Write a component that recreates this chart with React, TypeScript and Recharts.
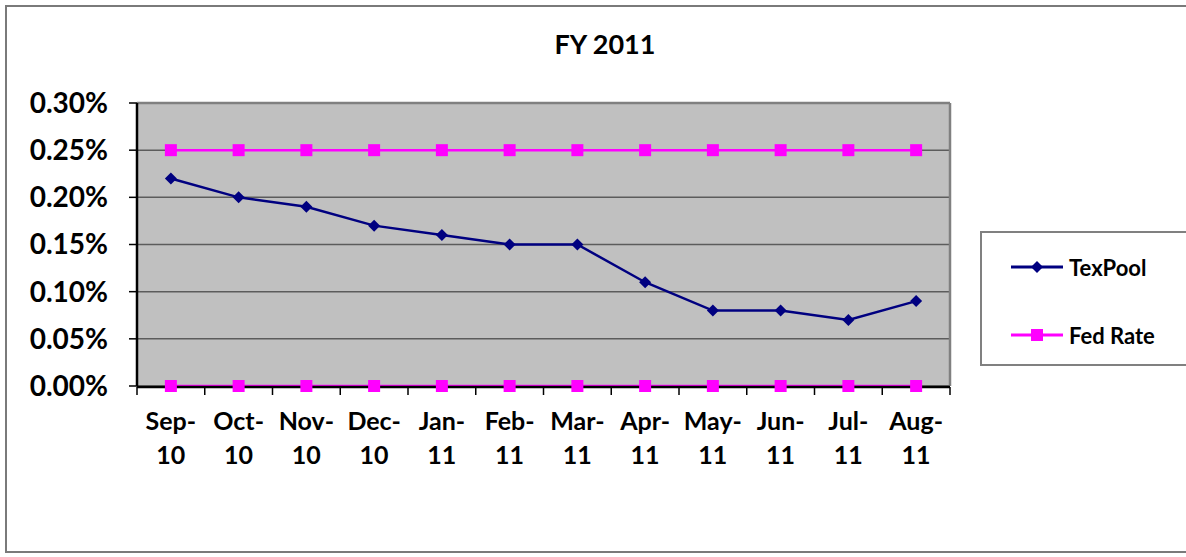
import React from 'react';
import { LineChart, Line, XAxis, YAxis, CartesianGrid, Legend, ReferenceLine } from 'recharts';

const categories = ['Sep-10', 'Oct-10', 'Nov-10', 'Dec-10', 'Jan-11', 'Feb-11', 'Mar-11', 'Apr-11', 'May-11', 'Jun-11', 'Jul-11', 'Aug-11'];
const texPool = [0.22, 0.20, 0.19, 0.17, 0.16, 0.15, 0.15, 0.11, 0.08, 0.08, 0.07, 0.09];
const fedRateUpper = [0.25, 0.25, 0.25, 0.25, 0.25, 0.25, 0.25, 0.25, 0.25, 0.25, 0.25, 0.25];
const fedRateLower = [0, 0, 0, 0, 0, 0, 0, 0, 0, 0, 0, 0];
const yTicks = [0, 0.05, 0.1, 0.15, 0.2, 0.25, 0.3];

const data = categories.map((month, i) => ({
  month,
  pos: i + 0.5,
  texPool: texPool[i],
  fedUpper: fedRateUpper[i],
  fedLower: fedRateLower[i],
}));
const boundaryTicks = [...categories.map((_, i) => i), categories.length];

const FONT = 'Lato, "Open Sans", sans-serif';
const NAVY = '#000080';
const MAGENTA = '#ff00ff';

const DiamondDot = (props: any) => {
  const { cx, cy, index } = props;
  if (cx == null || cy == null) return null;
  const r = 6;
  return (
    <polygon
      key={`dia-${index}`}
      points={`${cx},${cy - r} ${cx + r},${cy} ${cx},${cy + r} ${cx - r},${cy}`}
      fill={NAVY}
    />
  );
};

const SquareDot = (props: any) => {
  const { cx, cy, index, dataKey } = props;
  if (cx == null || cy == null) return null;
  const s = 12;
  return <rect key={`sq-${dataKey}-${index}`} x={cx - s / 2} y={cy - s / 2} width={s} height={s} fill={MAGENTA} />;
};

const MonthTick = (props: any) => {
  const { x, y, payload } = props;
  const v: string = String(payload?.value ?? '');
  const idx = v.indexOf('-');
  const a = v.slice(0, idx + 1);
  const b = v.slice(idx + 1);
  return (
    <g>
      <text x={x} y={y + 44} textAnchor="middle" fontFamily={FONT} fontWeight={700} fontSize={25} fill="#000">{a}</text>
      <text x={x} y={y + 78} textAnchor="middle" fontFamily={FONT} fontWeight={700} fontSize={25} fill="#000">{b}</text>
    </g>
  );
};

const EmptyTick = () => <g />;

const renderLegend = (props: any) => {
  const payload = (props.payload || [])
    .filter((e: any) => e.type !== 'none')
    .sort((a: any, b: any) => (a.type === 'diamond' ? 0 : 1) - (b.type === 'diamond' ? 0 : 1));
  return (
    <div style={{ width: 215, height: 135, border: '2px solid #808080', boxSizing: 'border-box', background: '#fff', position: 'relative' }}>
      {payload.map((entry: any, i: number) => (
        <div key={entry.value + i} style={{ position: 'absolute', left: 27, top: 20 + i * 68, height: 28, display: 'flex', alignItems: 'center' }}>
          <svg width={56} height={20} style={{ display: 'block' }}>
            <line x1={2} y1={10} x2={54} y2={10} stroke={entry.color} strokeWidth={3} />
            {entry.type === 'diamond' ? (
              <polygon points="28,4 34,10 28,16 22,10" fill={entry.color} />
            ) : (
              <rect x={22} y={4} width={12} height={12} fill={entry.color} />
            )}
          </svg>
          <span style={{ fontFamily: FONT, fontWeight: 700, fontSize: 22, color: '#000', marginLeft: 4 }}>{entry.value}</span>
        </div>
      ))}
    </div>
  );
};

export default function App() {
  return (
    <div style={{ position: 'absolute', left: 0, top: 0, width: 1186, height: 557, overflow: 'hidden', background: '#fff' }}>
      <div style={{ position: 'absolute', left: 5, top: 5, width: 1200, height: 548, border: '2px solid #7a7a7a', boxSizing: 'border-box' }} />
      <div style={{ position: 'absolute', left: 0, top: 27, width: 1210, textAlign: 'center', fontFamily: FONT, fontWeight: 700, fontSize: 27, color: '#000' }}>
        FY 2011
      </div>
      <LineChart
        width={1186}
        height={557}
        data={data}
        margin={{ top: 103, right: 236, bottom: 169, left: 7 }}
        style={{ position: 'absolute', left: 0, top: 0 }}
      >
        <CartesianGrid horizontal vertical={false} fill="#c0c0c0" stroke="#5c5c5c" strokeWidth={1.5} />
        <XAxis dataKey="month" scale="band" height={1} tickLine={false} axisLine={false} tickSize={0} tickMargin={0} interval={0} tick={<MonthTick />} />
        <XAxis xAxisId="grid" dataKey="pos" type="number" domain={[0, categories.length]} ticks={boundaryTicks} allowDataOverflow interval={0}
          height={1} tick={<EmptyTick />} tickSize={8} tickLine={{ stroke: '#000', strokeWidth: 1.5 }} axisLine={{ stroke: '#000', strokeWidth: 2.5 }} />
        <YAxis
          width={130}
          domain={[0, 0.3]}
          ticks={yTicks}
          tickSize={8}
          tickMargin={21}
          tickFormatter={(v: number) => `${v.toFixed(2)}%`}
          tick={{ fontFamily: FONT, fontWeight: 700, fontSize: 28, fill: '#000' }}
          tickLine={{ stroke: '#000', strokeWidth: 1.5 }}
          axisLine={{ stroke: '#000', strokeWidth: 2.5 }}
        />
        <ReferenceLine y={0.3} stroke="#808080" strokeWidth={2.5} />
        <ReferenceLine x={categories.length} xAxisId="grid" stroke="#808080" strokeWidth={2.5} />
        <Line dataKey="texPool" name="TexPool" stroke={NAVY} strokeWidth={2.5} dot={<DiamondDot />} legendType="diamond" isAnimationActive={false} />
        <Line dataKey="fedUpper" name="Fed Rate" stroke={MAGENTA} strokeWidth={2.5} dot={<SquareDot />} legendType="square" isAnimationActive={false} />
        <Line dataKey="fedLower" name="Fed Rate (floor)" stroke={MAGENTA} strokeWidth={2.5} dot={<SquareDot />} legendType="none" isAnimationActive={false} />
        <Legend
          layout="horizontal"
          verticalAlign="middle"
          align="center"
          content={renderLegend}
          wrapperStyle={{ left: 980, top: 231, width: 215, height: 135 }}
        />
      </LineChart>
    </div>
  );
}
